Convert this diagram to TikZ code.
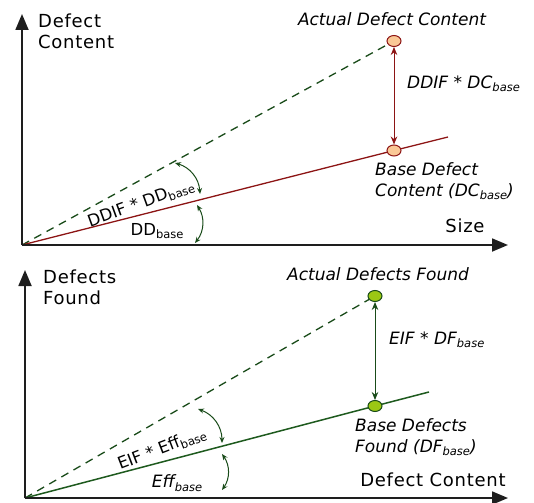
\documentclass[tikz,border=0pt]{standalone}
\usepackage{fontspec}
\setmainfont{DejaVu Sans}
\usetikzlibrary{arrows.meta,shapes.geometric}
\definecolor{dgreen}{RGB}{25,75,25}
\definecolor{lgreen}{RGB}{30,90,30}
\definecolor{dred}{RGB}{140,20,20}
\definecolor{ofill}{RGB}{250,200,150}
\definecolor{gfill}{RGB}{155,200,20}
\definecolor{axgray}{RGB}{30,30,30}
\newcommand\subb[1]{\raisebox{-0.35ex}{\fontsize{11.5}{11.5}\selectfont #1}}
\begin{document}
\begin{tikzpicture}[x=1pt,y=-1pt,
  axis/.style={draw=axgray,line width=1.8pt,-{Triangle[length=16pt,width=13pt]}},
  dashline/.style={draw=dgreen,line width=1.3pt,dash pattern=on 8pt off 6pt},
  redline/.style={draw=dred,line width=1.3pt},
  greenline/.style={draw=lgreen,line width=1.5pt},
  orangedot/.style={ellipse,draw=dred,fill=ofill,line width=1pt,minimum width=14pt,minimum height=11pt,inner sep=0pt},
  greendot/.style={ellipse,draw=dgreen,fill=gfill,line width=1pt,minimum width=14pt,minimum height=11pt,inner sep=0pt},
  redarrow/.style={draw=dred,line width=1pt,{Stealth[length=8pt,width=6.5pt]}-{Stealth[length=8pt,width=6.5pt]}},
  greenarrow/.style={draw=dgreen,line width=1pt,{Stealth[length=8pt,width=6.5pt]}-{Stealth[length=8pt,width=6.5pt]}},
  anglearc/.style={draw=dgreen,line width=1pt,{Stealth[length=6pt,width=5pt]}-{Stealth[length=6pt,width=5pt]}},
  txt/.style={font=\fontsize{16.5}{21}\selectfont,inner sep=0pt,text=black},
  axlab/.style={font=\fontsize{18}{21}\selectfont\addfontfeatures{LetterSpace=4},inner sep=0pt,text=black},
  itxt/.style={font=\fontsize{17}{21}\selectfont\itshape,inner sep=0pt,text=black}]
\useasboundingbox (0,0) rectangle (534,502);
% ---------- top panel ----------
\coordinate (O1) at (22,245);
\coordinate (Y1) at (22,14);
\coordinate (X1) at (508,245);
\coordinate (E1) at (448,137);
\node[orangedot] (A1) at (394,41) {};
\node[orangedot] (B1) at (394,150.5) {};
\draw[dashline] (O1) -- (A1);
\draw[redline] (O1) -- (B1);
\draw[redline] (B1) -- (E1);
\draw[redarrow] (A1) -- (B1);
\draw[axis] (O1) -- (Y1);
\draw[axis] (O1) -- (X1);
\coordinate (p1) at (175,163);
\coordinate (p2) at (200,194);
\coordinate (p3) at (197,205);
\coordinate (p4) at (195,243);
\draw[anglearc] (p1) to[bend left=35] (p2);
\draw[anglearc] (p3) to[bend left=35] (p4);
\node[axlab,align=left,anchor=north west] (T5) at (38,14) {Defect\\Content};
\node[itxt] (T1) at (392,19) {Actual Defect Content};
\node[itxt,anchor=west] (T2) at (407,84) {DDIF * DC\subb{base}};
\node[itxt,align=left,anchor=north west] (T3) at (375,162) {Base Defect\\Content (DC\subb{base})};
\node[axlab] (T4) at (465,226) {Size};
\node[txt,rotate=20] (L1) at (141,204) {DDIF * DD\subb{base}};
\node[txt] (L2) at (157,231) {DD\subb{base}};
% ---------- bottom panel ----------
\coordinate (O2) at (25,498);
\coordinate (Y2) at (25,270);
\coordinate (X2) at (508,498);
\coordinate (E2) at (429,392);
\node[greendot] (A2) at (375,296) {};
\node[greendot] (B2) at (375,406) {};
\draw[dashline] (O2) -- (A2);
\draw[greenline] (O2) -- (B2);
\draw[greenline] (B2) -- (E2);
\draw[greenarrow] (A2) -- (B2);
\draw[axis] (O2) -- (Y2);
\draw[axis] (O2) -- (X2);
\coordinate (q1) at (198,409);
\coordinate (q2) at (222,443);
\coordinate (q3) at (222,454);
\coordinate (q4) at (222,490);
\draw[anglearc] (q1) to[bend left=35] (q2);
\draw[anglearc] (q3) to[bend left=35] (q4);
\node[axlab,align=left,anchor=north west] (S5) at (43,270) {Defects\\Found};
\node[itxt] (S1) at (378,274) {Actual Defects Found};
\node[itxt,anchor=west] (S2) at (389,340) {EIF * DF\subb{base}};
\node[itxt,align=left,anchor=north west] (S3) at (355,418) {Base Defects\\Found (DF\subb{base})};
\node[axlab] (S4) at (433,480) {Defect Content};
\node[txt,rotate=21] (M1) at (162,449) {EIF * Eff\subb{base}};
\node[itxt] (M2) at (177,483) {Eff\subb{base}};
\end{tikzpicture}
\end{document}
